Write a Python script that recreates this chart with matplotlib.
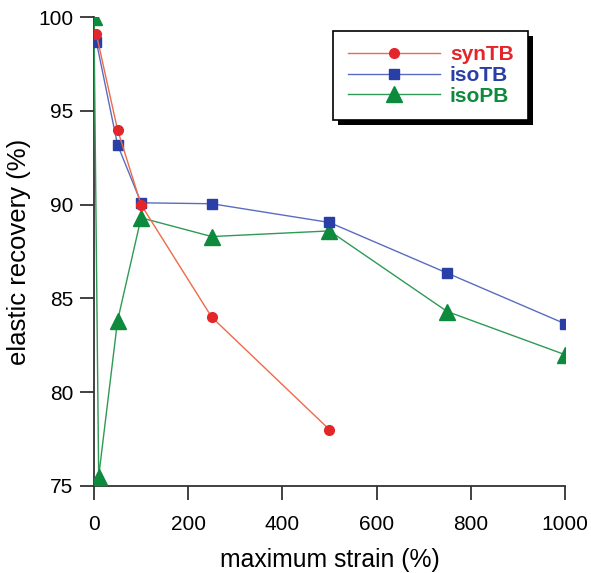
import matplotlib.pyplot as plt
from matplotlib.patches import Rectangle

plt.rcParams['font.family'] = ['Liberation Sans', 'DejaVu Sans']

# data
syn_x = [5, 50, 100, 250, 500]
syn_y = [99.1, 94.0, 90.0, 84.0, 78.0]
isotb_x = [5, 50, 100, 250, 500, 750, 1000]
isotb_y = [98.7, 93.2, 90.1, 90.05, 89.05, 86.35, 83.65]
isopb_x = [0, 10, 50, 100, 250, 500, 750, 1000]
isopb_y = [100.0, 75.5, 83.8, 89.3, 88.3, 88.6, 84.3, 82.0]

x_ticks = [0, 200, 400, 600, 800, 1000]
y_ticks = [75, 80, 85, 90, 95, 100]

fig = plt.figure(figsize=(5.91, 5.73), dpi=100)
ax = fig.add_axes([0.159, 0.152, 0.797, 0.818])

ax.plot(isopb_x, isopb_y, color="#2e9a55", lw=1.0, marker="^", ms=11,
        mfc="#0d8a3c", mec="#0d8a3c", label="isoPB", zorder=3)
ax.plot(isotb_x, isotb_y, color="#5a6cc0", lw=1.0, marker="s", ms=7,
        mfc="#2a3ea8", mec="#2a3ea8", label="isoTB", zorder=4)
ax.plot(syn_x, syn_y, color="#ee6a4a", lw=1.0, marker="o", ms=7,
        mfc="#e3262a", mec="#e3262a", label="synTB", zorder=5)

ax.set_xlim(0, 1000)
ax.set_ylim(75, 100)
ax.set_xticks(x_ticks)
ax.set_yticks(y_ticks)
for s in ["top", "right"]:
    ax.spines[s].set_visible(False)
for s in ["left", "bottom"]:
    ax.spines[s].set_linewidth(1.3)
    ax.spines[s].set_color("#333333")
ax.tick_params(direction="out", length=10, width=1.3, color="#333333",
               labelsize=15)
ax.tick_params(axis="x", pad=11)
ax.tick_params(axis="y", pad=5)
ax.set_xlabel("maximum strain (%)", fontsize=17.8, labelpad=10)
ax.set_ylabel("elastic recovery (%)", fontsize=18.5, labelpad=5)

h, l = ax.get_legend_handles_labels()
order = [2, 1, 0]
leg = ax.legend([h[i] for i in order], [l[i] for i in order],
                loc="upper left", bbox_to_anchor=(0.508, 0.971),
                handlelength=4.4, handletextpad=0.5, borderpad=0.7,
                borderaxespad=0, labelspacing=0.08, fancybox=False,
                framealpha=1, edgecolor="black",
                prop={"size": 15, "weight": "bold"})
leg.get_frame().set_linewidth(1.2)
leg.set_zorder(11)
for txt, c in zip(leg.get_texts(), ["#e3262a", "#2a3ea8", "#0d8a3c"]):
    txt.set_color(c)

# solid drop shadow behind the legend box
fig.canvas.draw()
bb = leg.get_window_extent().transformed(fig.transFigure.inverted())
dx, dy = 5 / 591, 5 / 573
shadow = Rectangle((bb.x0 + dx, bb.y0 - dy), bb.width, bb.height,
                   transform=fig.transFigure, facecolor="black",
                   edgecolor="none", zorder=9, clip_on=False)
ax.add_patch(shadow)

fig.savefig("out.png", dpi=100)
